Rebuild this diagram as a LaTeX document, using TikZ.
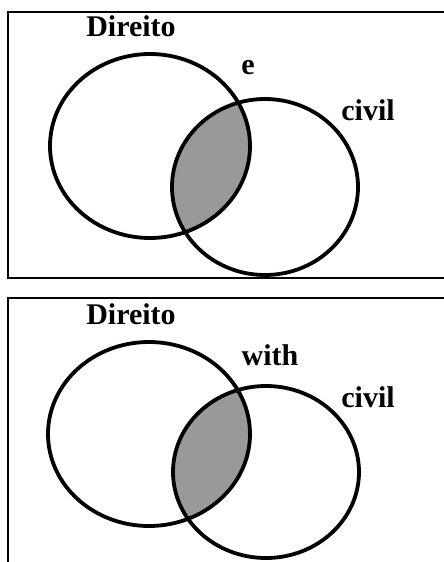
\documentclass[tikz,border=0pt]{standalone}
\usepackage{fontspec}
\setmainfont{Liberation Serif}
\begin{document}
\begin{tikzpicture}[x=1pt,y=-1pt,
  frame/.style={line width=1.3pt},
  ring/.style={line width=3.8pt},
  lens/.style={fill=black!40},
  word/.style={font=\fontsize{30}{32}\selectfont\bfseries, inner sep=0pt}]
\useasboundingbox (0,0) rectangle (444,562);
% top panel
\draw[frame] (444,12) -- (8,12) -- (8,278) -- (444,278);
\begin{scope}
\clip (150,146) ellipse[x radius=100, y radius=92];
\fill[lens] (265,187) ellipse[x radius=93, y radius=88];
\end{scope}
\draw[ring] (150,146) ellipse[x radius=100, y radius=92];
\draw[ring] (265,187) ellipse[x radius=93, y radius=88];
\node[word] (dirA) at (131,26) {Direito};
\node[word] (opA) at (248,68) {e};
\node[word] (civA) at (368,110) {civil};
% bottom panel
\draw[frame] (444,298) -- (8,298) -- (8,562);
\begin{scope}
\clip (149,434) ellipse[x radius=101, y radius=92];
\fill[lens] (266,472) ellipse[x radius=93, y radius=86];
\end{scope}
\draw[ring] (149,434) ellipse[x radius=101, y radius=92];
\draw[ring] (266,472) ellipse[x radius=93, y radius=86];
\node[word] (dirB) at (131,314) {Direito};
\node[word] (opB) at (270,355) {with};
\node[word] (civB) at (368,397) {civil};
\end{tikzpicture}
\end{document}
